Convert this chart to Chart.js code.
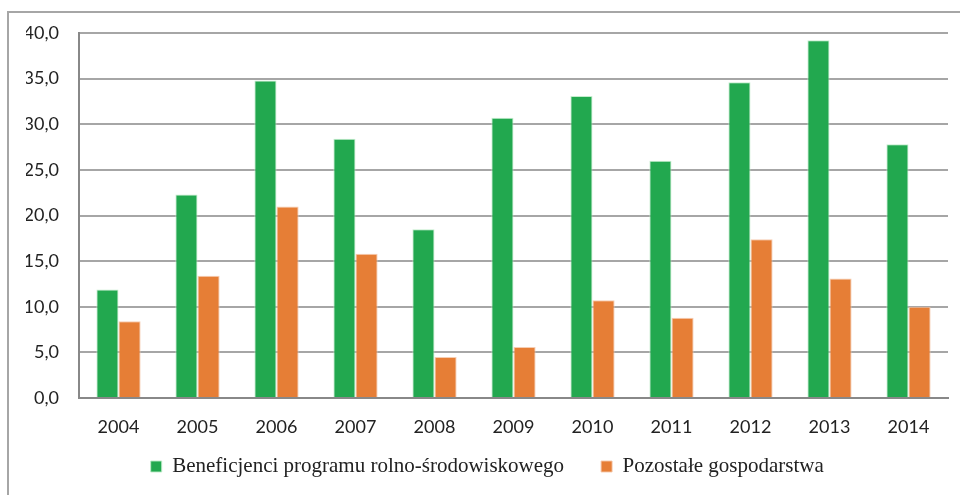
<!DOCTYPE html>
<html>
<head>
<meta charset="utf-8">
<script src="https://cdn.jsdelivr.net/npm/chart.js@4"></script>
<style>
    html, body { margin: 0; padding: 0; background: #fff; }
    .frame {
        position: absolute;
        left: 7px;
        top: 11px;
        width: 960px;
        height: 490px;
        border-left: 2px solid #a6a6a6;
        border-top: 2px solid #a6a6a6;
    }
    .wrap { position: absolute; left: 0; top: 0; width: 960px; height: 495px; }
</style>
</head>
<body>
<div class="frame"></div>
<div class="wrap"><canvas id="chart"></canvas></div>
<script>
// Dane
const years = ['2004', '2005', '2006', '2007', '2008', '2009', '2010', '2011', '2012', '2013', '2014'];
const beneficjenci = [11.9, 22.3, 34.8, 28.4, 18.5, 30.7, 33.1, 26.0, 34.6, 39.2, 27.8];
const pozostale = [8.4, 13.4, 21.0, 15.8, 4.5, 5.6, 10.7, 8.8, 17.4, 13.1, 10.0];
const seriesNames = ['Beneficjenci programu rolno-środowiskowego', 'Pozostałe gospodarstwa'];

// Fixed legend height so the plot area keeps its place
const legendHeight = {
    id: 'legendHeight',
    beforeInit(chart) {
        const origFit = chart.legend.fit;
        chart.legend.fit = function () {
            origFit.call(this);
            this.height = 55;
        };
    }
};

const ctx = document.getElementById('chart').getContext('2d');
new Chart(ctx, {
    type: 'bar',
    data: {
        labels: years,
        datasets: [{
            label: seriesNames[0],
            data: beneficjenci,
            backgroundColor: '#22a84f',
            borderColor: 'rgba(190, 235, 200, 0.9)',
            borderWidth: 1,
            barPercentage: 1,
            categoryPercentage: 0.56
        }, {
            label: seriesNames[1],
            data: pozostale,
            backgroundColor: '#e67e36',
            borderColor: 'rgba(245, 200, 170, 0.9)',
            borderWidth: 1,
            barPercentage: 1,
            categoryPercentage: 0.56
        }]
    },
    options: {
        responsive: true,
        maintainAspectRatio: false,
        animation: false,
        layout: { padding: { left: 26, right: 12, top: 33, bottom: 0 } },
        plugins: {
            tooltip: { enabled: false },
            legend: {
                position: 'bottom',
                fullSize: false,
                labels: {
                    boxWidth: 11,
                    boxHeight: 11,
                    padding: 16,
                    color: '#222',
                    font: { family: "'Liberation Serif', 'Times New Roman', serif", size: 21 },
                    generateLabels: chart => {
                        const items = Chart.defaults.plugins.legend.labels.generateLabels(chart);
                        items[0].text += '    ';
                        items[1].text += '          ';
                        return items;
                    }
                }
            }
        },
        scales: {
            x: {
                grid: { display: false, drawTicks: false },
                border: { color: '#888', width: 2 },
                ticks: {
                    color: '#222',
                    padding: 18,
                    font: { family: 'Lato, sans-serif', size: 18 }
                },
                afterFit: scale => { scale.height = 42; }
            },
            y: {
                min: 0,
                max: 40,
                grid: { color: '#a6a6a6', lineWidth: 2, drawTicks: false },
                border: { color: '#888', width: 2 },
                ticks: {
                    stepSize: 5,
                    color: '#222',
                    padding: 20,
                    font: { family: 'Lato, sans-serif', size: 18 },
                    callback: value => value.toFixed(1).replace('.', ',')
                },
                afterFit: scale => { scale.width = 53; }
            }
        }
    },
    plugins: [legendHeight]
});
</script>
</body>
</html>
